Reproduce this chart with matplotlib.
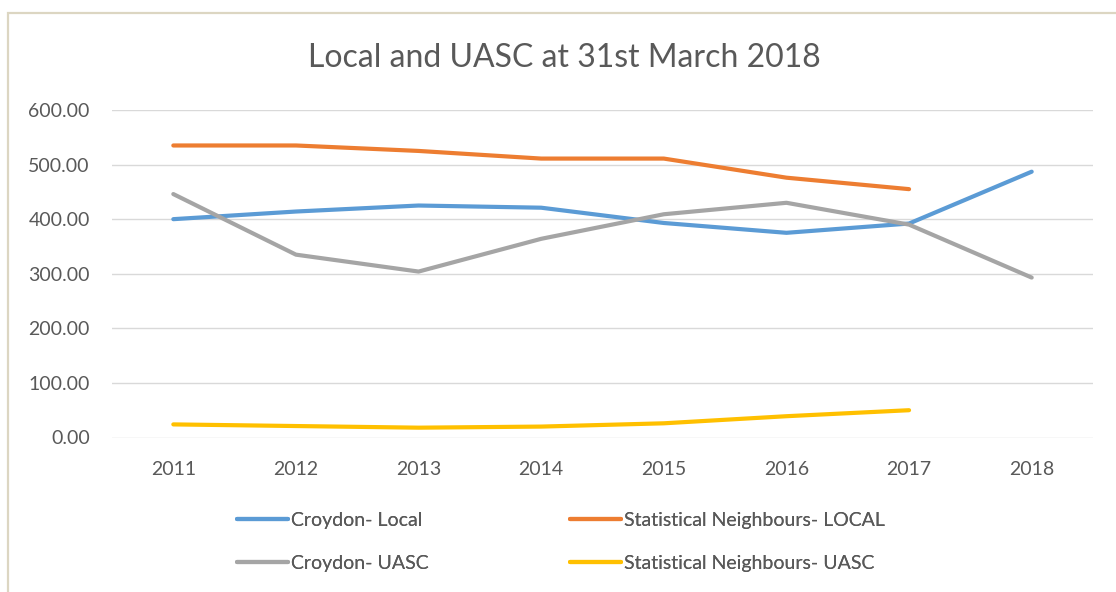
import matplotlib
matplotlib.use("Agg")
import matplotlib.pyplot as plt
from matplotlib.patches import Rectangle

plt.rcParams["font.family"] = ["Lato", "DejaVu Sans"]

years = ["2011", "2012", "2013", "2014", "2015", "2016", "2017", "2018"]
croydon_local = [400, 414, 425, 421, 393, 375, 392, 487]
sn_local = [535, 535, 525, 511, 511, 476, 455]
croydon_uasc = [446, 335, 304, 364, 409, 430, 390, 293]
sn_uasc = [24, 21, 18, 20, 26, 39, 50]

text_col = "#595959"
grid_col = "#d9d9d9"

fig = plt.figure(figsize=(11.16, 5.92), dpi=100)

# chart frame (cropped on the right and bottom like the screenshot)
fig.patches.append(Rectangle((8 / 1116, -0.05), 1.2, 1 - 13 / 592 + 0.05,
                             transform=fig.transFigure, fill=False,
                             edgecolor="#dcd6c2", linewidth=1.6))

ax = fig.add_axes([112 / 1116, 1 - 437.5 / 592, 981 / 1116, 327.5 / 592])

x = list(range(len(years)))
ax.plot(x, croydon_local, color="#5B9BD5", lw=3, solid_capstyle="round", label="Croydon- Local")
ax.plot(x, croydon_uasc, color="#A5A5A5", lw=3, solid_capstyle="round", label="Croydon- UASC")
ax.plot(x[:len(sn_local)], sn_local, color="#ED7D31", lw=3, solid_capstyle="round",
        label="Statistical Neighbours- LOCAL")
ax.plot(x[:len(sn_uasc)], sn_uasc, color="#FFC000", lw=3, solid_capstyle="round",
        label="Statistical Neighbours- UASC")

ax.set_xlim(-0.5, len(years) - 0.5)
ax.set_ylim(0, 600)
ax.set_yticks(range(0, 601, 100))
ax.set_yticklabels([f"{v:.2f}" for v in range(0, 601, 100)])
ax.set_xticks(x)
ax.set_xticklabels(years)
ax.tick_params(length=0, colors=text_col, labelsize=14)
ax.tick_params(axis="y", pad=16)
ax.tick_params(axis="x", pad=17)
ax.grid(axis="y", color=grid_col, lw=1)
ax.set_axisbelow(True)
for s in ax.spines.values():
    s.set_visible(False)

fig.text(564 / 1116, 1 - 58 / 592, "Local and UASC at 31st March 2018",
         ha="center", va="center", fontsize=23, color=text_col)

h, l = ax.get_legend_handles_labels()
for idx, xpos in ((slice(0, 2), 237), (slice(2, 4), 570)):
    leg = fig.legend(h[idx], l[idx], loc="center left",
                     bbox_to_anchor=(xpos / 1116, 1 - 542 / 592),
                     frameon=False, fontsize=14, labelcolor=text_col,
                     handlelength=2.6, handletextpad=0.2, labelspacing=1.35,
                     borderpad=0, borderaxespad=0)
    fig.add_artist(leg)

fig.savefig("out.png", dpi=100)
